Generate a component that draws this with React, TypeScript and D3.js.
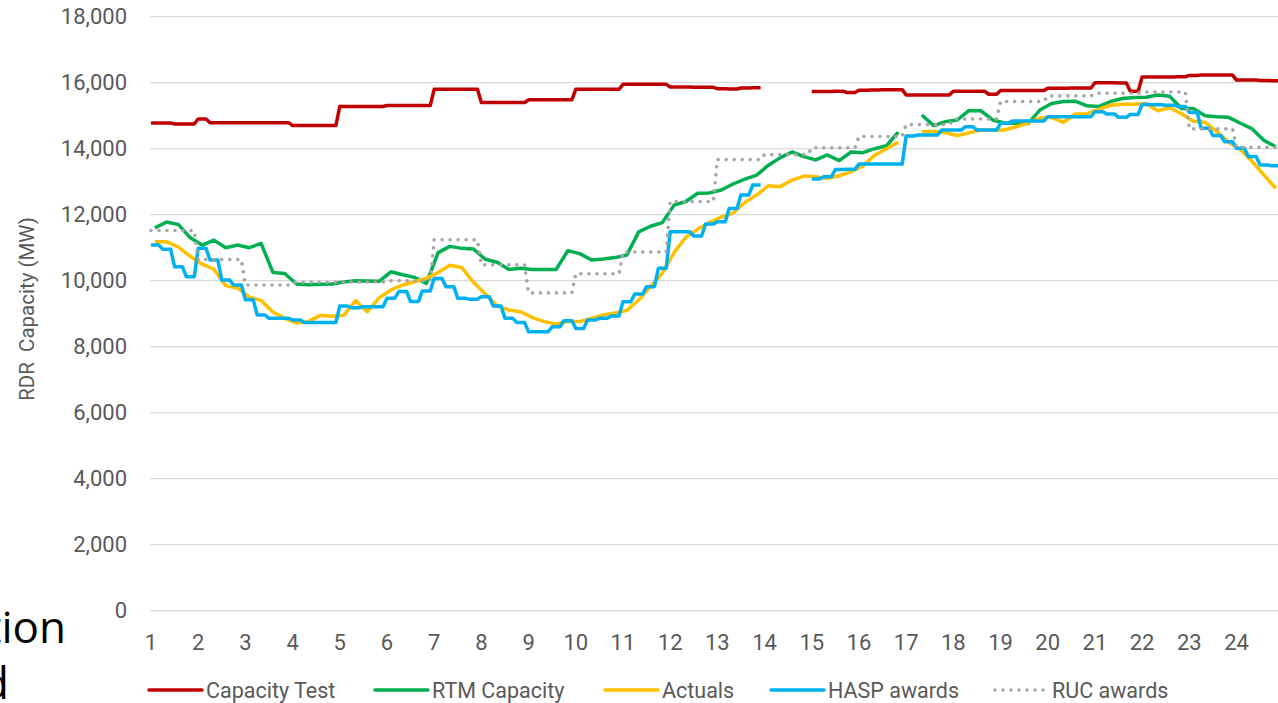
import React from 'react';
import * as d3 from 'd3';

// ---- data ----
const hourLabels = ['1','2','3','4','5','6','7','8','9','10','11','12','13','14','15','16','17','18','19','20','21','22','23','24'];
const yTickValues = [0, 2000, 4000, 6000, 8000, 10000, 12000, 14000, 16000, 18000];

// 15-minute values (96 per day)
const capacityTest: (number | null)[] = [
  14780, 14780, 14750, 14750, 14900, 14790, 14790, 14790, 14790, 14790, 14790, 14790,
  14700, 14700, 14700, 14700, 15280, 15280, 15280, 15280, 15310, 15310, 15310, 15310,
  15800, 15800, 15800, 15800, 15400, 15400, 15400, 15400, 15480, 15480, 15480, 15480,
  15800, 15800, 15800, 15800, 15950, 15950, 15950, 15950, 15870, 15870, 15860, 15860,
  15820, 15810, 15840, 15850, null, null, null, null, 15730, 15730, 15740, 15700,
  15770, 15780, 15790, 15790, 15630, 15630, 15630, 15630, 15740, 15740, 15740, 15650,
  15760, 15760, 15760, 15760, 15830, 15830, 15840, 15840, 16000, 16000, 15990, 15740,
  16170, 16170, 16170, 16180, 16220, 16230, 16230, 16230, 16080, 16080, 16070, 16060,
];

const rtmCapacity: (number | null)[] = [
  11600, 11780, 11700, 11300, 11080, 11230, 11000, 11080, 11000, 11130, 10250, 10220,
  9900, 9880, 9890, 9900, 9960, 10000, 9990, 9980, 10270, 10180, 10100, 9920,
  10850, 11040, 10980, 10960, 10650, 10560, 10340, 10380, 10340, 10340, 10340, 10910,
  10820, 10630, 10660, 10700, 10780, 11480, 11650, 11760, 12290, 12400, 12650, 12660,
  12750, 12930, 13080, 13200, 13500, 13730, 13900, 13760, 13660, 13810, 13640, 13900,
  13880, 14000, 14090, 14500, null, 15020, 14700, 14820, 14870, 15160, 15150, 14870,
  14780, 14770, 14760, 15170, 15370, 15430, 15440, 15300, 15280, 15430, 15520, 15550,
  15560, 15630, 15590, 15220, 15220, 15000, 14970, 14950, 14770, 14600, 14250, 14060,
];

const actuals: (number | null)[] = [
  11180, 11180, 11020, 10740, 10500, 10350, 9850, 9780, 9500, 9400, 9050, 8860,
  8720, 8760, 8950, 8920, 8950, 9400, 9060, 9480, 9720, 9870, 9970, 10070,
  10250, 10470, 10400, 9950, 9600, 9240, 9110, 9060, 8880, 8760, 8690, 8760,
  8760, 8860, 8960, 9020, 9100, 9415, 9830, 10230, 10850, 11320, 11560, 11760,
  11930, 12050, 12370, 12600, 12880, 12850, 13050, 13170, 13150, 13100, 13180, 13300,
  13480, 13800, 14000, 14200, null, 14510, 14530, 14480, 14400, 14480, 14565, 14565,
  14565, 14665, 14780, 14930, 14950, 14800, 15050, 15060, 15190, 15320, 15350, 15350,
  15360, 15150, 15240, 15060, 14830, 14800, 14520, 14200, 13970, 13610, 13200, 12800,
];

const haspAwards: (number | null)[] = [
  11080, 10950, 10420, 10120, 10980, 10630, 10020, 9870, 9420, 8960, 8860, 8860,
  8810, 8730, 8730, 8730, 9230, 9180, 9210, 9210, 9470, 9670, 9370, 9690,
  10070, 9820, 9465, 9440, 9515, 9230, 8860, 8730, 8455, 8455, 8605, 8790,
  8555, 8810, 8860, 8930, 9365, 9595, 9820, 10375, 11485, 11485, 11355, 11720,
  11790, 12190, 12600, 12900, null, null, null, null, 13080, 13150, 13370, 13380,
  13535, 13535, 13535, 13535, 14385, 14415, 14415, 14565, 14565, 14665, 14565, 14565,
  14770, 14840, 14840, 14840, 14970, 14970, 14970, 14970, 15120, 15050, 14950, 15040,
  15340, 15330, 15320, 15280, 15100, 14620, 14400, 14210, 14010, 13760, 13505, 13480,
];

// hourly values (24 per day)
const rucAwards: (number | null)[] = [
  11520, 10640, 9870, 9950, 9960, 10000, 11240, 10480, 9630, 10210, 10870, 12400,
  13670, 13820, 14030, 14370, 14730, 14900, 15430, 15600, 15680, 15720, 14600, 14040,
];

const seriesNames = ['Capacity Test', 'RTM Capacity', 'Actuals', 'HASP awards', 'RUC awards'];

// ---- layout / style ----
const W = 1278;
const H = 703;
const INTERVALS = 288; // 5-minute intervals in a day
const colors = ['#C00000', '#00B050', '#FFC000', '#00B0F0', '#A6A6A6'];
const textColor = '#595959';
const font = 'Roboto, "Open Sans", sans-serif';

type Pt = [number, number | null];

// value held for a whole block of 5-min intervals (drawn as in the source at 5-min resolution)
function blockPoints(values: (number | null)[], span: number): Pt[] {
  const pts: Pt[] = [];
  values.forEach((v, k) => {
    if (v == null) {
      pts.push([k * span, null]);
    } else {
      pts.push([k * span, v]);
      pts.push([k * span + span - 1, v]);
    }
  });
  return pts;
}

function samplePoints(values: (number | null)[], span: number): Pt[] {
  return values.map((v, k) => [k * span + 1, v] as Pt);
}

export default function App() {
  const x = d3.scaleLinear().domain([0, INTERVALS - 1]).range([151, 151 + (INTERVALS - 1) * 3.933]);
  const y = d3.scaleLinear().domain([0, 18000]).range([610.7, 16.7]);

  const line = d3
    .line<Pt>()
    .defined((d) => d[1] != null)
    .x((d) => x(d[0]))
    .y((d) => y(d[1] as number));

  const series: { pts: Pt[]; dash?: string }[] = [
    { pts: blockPoints(capacityTest, 3) },
    { pts: samplePoints(rtmCapacity, 3) },
    { pts: samplePoints(actuals, 3) },
    { pts: blockPoints(haspAwards, 3) },
    { pts: blockPoints(rucAwards, 12), dash: '0.01 8' },
  ];

  const legendX = [149, 375, 605, 771, 995];

  return (
    <svg
      width={W}
      height={H}
      style={{ position: 'absolute', left: 0, top: 0, display: 'block', background: '#fff' }}
      fontFamily={font}
    >
      {/* gridlines */}
      {yTickValues.map((v) => (
        <line key={'g' + v} x1={150} x2={W + 10} y1={y(v)} y2={y(v)} stroke="#D9D9D9" strokeWidth={1.3} />
      ))}
      {/* y tick labels */}
      {yTickValues.map((v) => (
        <text key={'yt' + v} x={127} y={y(v) + 7.6} textAnchor="end" fontSize={22} fill={textColor}>
          {d3.format(',')(v)}
        </text>
      ))}
      {/* x tick labels */}
      {hourLabels.map((h, idx) => (
        <text key={'xt' + h} x={x(idx * 12)} y={650} textAnchor="middle" fontSize={22} fill={textColor}>
          {h}
        </text>
      ))}
      {/* y axis title */}
      <text
        transform="translate(34,309) rotate(-90)"
        textAnchor="middle"
        fontSize={20.5}
        fill={textColor}
        style={{ whiteSpace: 'pre' }}
      >
        {'RDR  Capacity (MW)'}
      </text>

      {/* series */}
      {series.map((s, i) => (
        <path
          key={'s' + i}
          d={line(s.pts) || ''}
          fill="none"
          stroke={colors[i]}
          strokeWidth={s.dash ? 3.6 : 3.5}
          strokeLinejoin="round"
          strokeLinecap={s.dash ? 'round' : 'butt'}
          strokeDasharray={s.dash}
        />
      ))}

      {/* legend */}
      {seriesNames.map((name, i) => (
        <g key={'lg' + i}>
          <line
            x1={legendX[i]}
            x2={legendX[i] + 53}
            y1={690}
            y2={690}
            stroke={colors[i]}
            strokeWidth={i === 4 ? 3.6 : 3.5}
            strokeLinecap="round"
            strokeDasharray={i === 4 ? '0.01 8' : undefined}
          />
          <text x={legendX[i] + 57} y={697.5} fontSize={21.5} fill={textColor}>
            {name}
          </text>
        </g>
      ))}

      {/* cropped slide text at the left edge */}
      <text x={66} y={643} textAnchor="end" fontSize={44} fill="#000" fontFamily='"Open Sans", Roboto, sans-serif'>
        tion
      </text>
      <text x={9} y={699} textAnchor="end" fontSize={44} fill="#000" fontFamily='"Open Sans", Roboto, sans-serif'>
        d
      </text>
    </svg>
  );
}
